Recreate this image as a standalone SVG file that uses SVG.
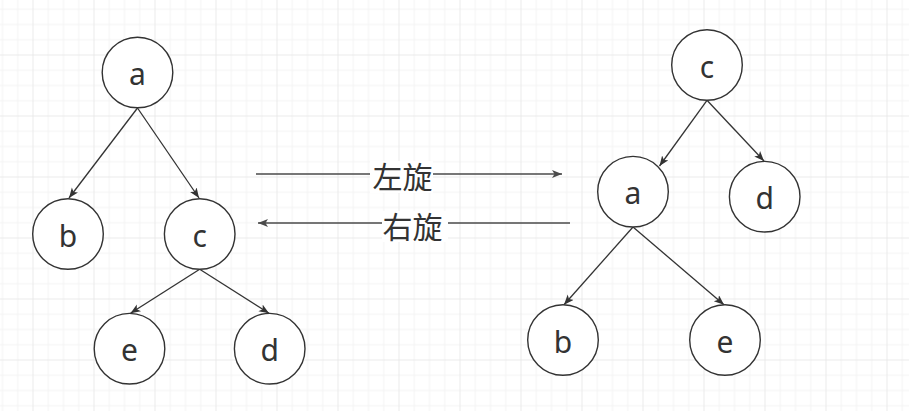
<svg xmlns="http://www.w3.org/2000/svg" width="909" height="411" viewBox="0 0 909 411">
<style>
.node circle{fill:#fff;stroke:#333;stroke-width:1.4}
.node text{font-family:"Noto Sans","Noto Sans CJK SC",sans-serif;font-size:30px;fill:#333;text-anchor:middle}
.edge{stroke:#333;stroke-width:1.3;fill:none;marker-end:url(#ah)}
.rot{stroke:#4a4a4a;stroke-width:1.4;fill:none;marker-end:url(#ah2)}
.lbl{font-family:"Noto Sans CJK SC","Noto Sans",sans-serif;font-size:30px;fill:#333;text-anchor:middle}
</style>
<defs>
<pattern id="grid" patternUnits="userSpaceOnUse" x="32.5" y="54.5" width="61" height="61">
<rect x="0" y="0" width="61" height="61" fill="#fff"/>
<rect x="15.25" y="0" width="1" height="61" fill="#f3f3f3"/>
<rect x="30.5" y="0" width="1" height="61" fill="#f3f3f3"/>
<rect x="45.75" y="0" width="1" height="61" fill="#f3f3f3"/>
<rect x="0" y="15.25" width="61" height="1" fill="#f3f3f3"/>
<rect x="0" y="30.5" width="61" height="1" fill="#f3f3f3"/>
<rect x="0" y="45.75" width="61" height="1" fill="#f3f3f3"/>
<rect x="0" y="0" width="1" height="61" fill="#eaeaea"/>
<rect x="0" y="0" width="61" height="1" fill="#eaeaea"/>
</pattern>
<marker id="ah" markerUnits="userSpaceOnUse" markerWidth="12" markerHeight="10" refX="10" refY="4" orient="auto" viewBox="0 0 12 10">
<path d="M0,0 L10,4 L0,8 L2.5,4 Z" fill="#333"/>
</marker>
<marker id="ah2" markerUnits="userSpaceOnUse" markerWidth="12" markerHeight="10" refX="10" refY="4" orient="auto" viewBox="0 0 12 10">
<path d="M0,0 L10,4 L0,8 L2.5,4 Z" fill="#4a4a4a"/>
</marker>
</defs>
<rect width="909" height="411" fill="url(#grid)"/>
<g id="connectors">
<line class="edge" x1="137.5" y1="108" x2="69" y2="198"/>
<line class="edge" x1="137.5" y1="108" x2="199" y2="198"/>
<line class="edge" x1="199.7" y1="269.3" x2="130.5" y2="313.3"/>
<line class="edge" x1="199.7" y1="269.3" x2="269" y2="313.3"/>
<line class="edge" x1="707" y1="100.3" x2="659.5" y2="166"/>
<line class="edge" x1="707" y1="100.3" x2="764" y2="161"/>
<line class="edge" x1="633" y1="227" x2="564" y2="304.7"/>
<line class="edge" x1="633" y1="227" x2="724" y2="304.7"/>
<g id="rot-left">
<line class="rot" x1="256" y1="174" x2="562" y2="174"/>
<rect x="370" y="161" width="63" height="32" fill="#fff"/>
<text class="lbl" x="402.5" y="188">左旋</text>
</g>
<g id="rot-right">
<line class="rot" x1="570" y1="223" x2="258" y2="223"/>
<rect x="382" y="211" width="66" height="31" fill="#fff"/>
<text class="lbl" x="412.5" y="238">右旋</text>
</g>
</g>
<g id="L_a" class="node"><circle cx="137.5" cy="72.5" r="35.3"/><text x="137.5" y="85">a</text></g>
<g id="L_b" class="node"><circle cx="68" cy="234" r="35.3"/><text x="68" y="246.5">b</text></g>
<g id="L_c" class="node"><circle cx="199.7" cy="234" r="35.3"/><text x="199.7" y="246.5">c</text></g>
<g id="L_e" class="node"><circle cx="129.5" cy="348.7" r="35.3"/><text x="129.5" y="361.2">e</text></g>
<g id="L_d" class="node"><circle cx="269.7" cy="348.7" r="35.3"/><text x="269.7" y="361.2">d</text></g>
<g id="R_c" class="node"><circle cx="707" cy="65" r="35.3"/><text x="707" y="77.5">c</text></g>
<g id="R_a" class="node"><circle cx="633" cy="191.7" r="35.3"/><text x="633" y="204.2">a</text></g>
<g id="R_d" class="node"><circle cx="764.7" cy="196.7" r="35.3"/><text x="764.7" y="209.2">d</text></g>
<g id="R_b" class="node"><circle cx="563" cy="340" r="35.3"/><text x="563" y="352.5">b</text></g>
<g id="R_e" class="node"><circle cx="725" cy="340" r="35.3"/><text x="725" y="352.5">e</text></g>
</svg>
